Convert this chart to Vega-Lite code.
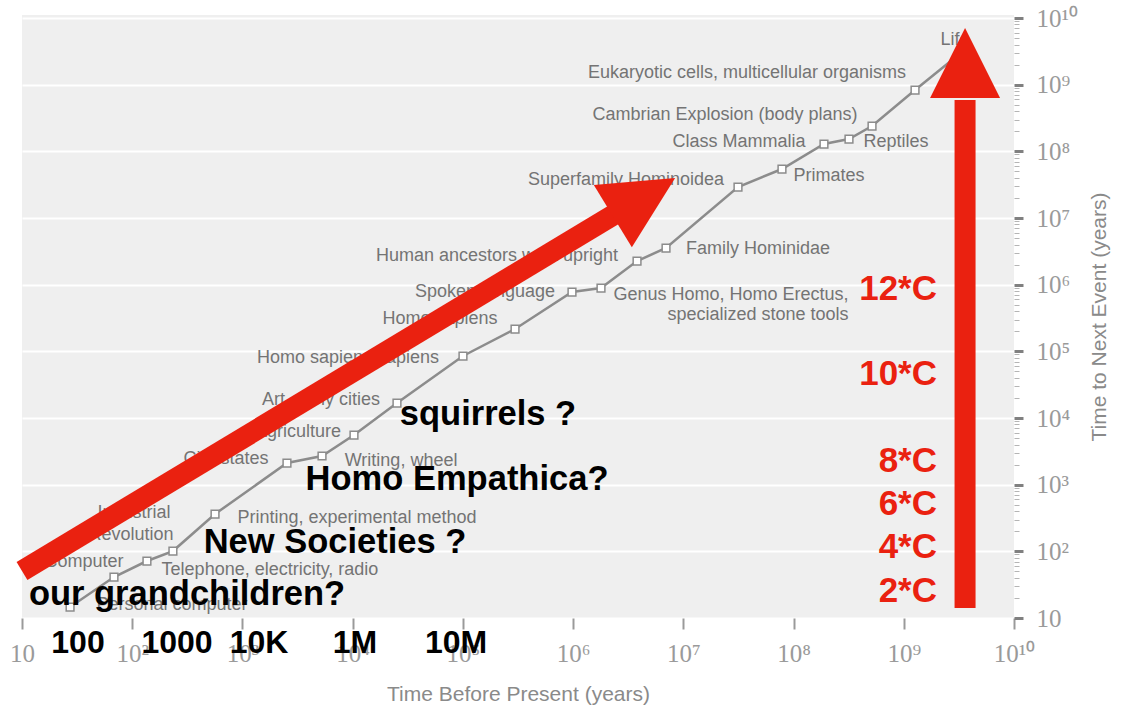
{
  "$schema": "https://vega.github.io/schema/vega-lite/v6.json",
  "width": 992,
  "height": 603,
  "autosize": {"type": "none"},
  "padding": {"left": 22, "top": 15, "right": 110, "bottom": 91},
  "background": "white",
  "config": {"view": {"fill": "#efefef", "stroke": null}, "font": "Liberation Sans"},
  "datasets": {
    "events": [
      {"event": "Personal computer", "time": 27.3, "next": 14.6},
      {"event": "Computer", "time": 68.3, "next": 41.2},
      {"event": "Telephone, electricity, radio", "time": 136, "next": 71.6},
      {"event": "Industrial Revolution", "time": 234, "next": 101},
      {"event": "Printing, experimental method", "time": 564, "next": 363},
      {"event": "City-states", "time": 2535, "next": 2113},
      {"event": "Writing, wheel", "time": 5272, "next": 2692},
      {"event": "Agriculture", "time": 10280, "next": 5559},
      {"event": "Art, early cities", "time": 25240, "next": 16790},
      {"event": "Homo sapiens sapiens", "time": 100200, "next": 85110},
      {"event": "Homo sapiens", "time": 297200, "next": 216300},
      {"event": "Spoken language", "time": 977000, "next": 776000},
      {"event": "Genus Homo, Homo Erectus, specialized stone tools", "time": 1791000, "next": 891000},
      {"event": "Human ancestors walk upright", "time": 3802000, "next": 2265000},
      {"event": "Family Hominidae", "time": 6966000, "next": 3548000},
      {"event": "Superfamily Hominoidea", "time": 31330000, "next": 29170000},
      {"event": "Primates", "time": 78520000, "next": 54330000},
      {"event": "Class Mammalia", "time": 188800000, "next": 128800000},
      {"event": "Reptiles", "time": 318400000, "next": 153100000},
      {"event": "Cambrian Explosion (body plans)", "time": 515200000, "next": 239900000},
      {"event": "Eukaryotic cells, multicellular organisms", "time": 1265000000, "next": 831800000},
      {"event": "Life", "time": 3373000000, "next": 3090000000}
    ],
    "labels": [
      {"text": "Life", "time": 2920000000, "next": 4680000000},
      {"text": "Eukaryotic cells, multicellular organisms", "time": 37850000, "next": 1496000000},
      {"text": "Cambrian Explosion (body plans)", "time": 23880000, "next": 350800000},
      {"text": "Class Mammalia", "time": 31990000, "next": 138000000},
      {"text": "Reptiles", "time": 851000000, "next": 138000000},
      {"text": "Primates", "time": 209900000, "next": 42660000},
      {"text": "Superfamily Hominoidea", "time": 3020000, "next": 37150000},
      {"text": "Family Hominidae", "time": 47640000, "next": 3428000},
      {"text": "Human ancestors walk upright", "time": 204200, "next": 2692000},
      {"text": "Genus Homo, Homo Erectus,", "time": 27100000, "next": 699800},
      {"text": "specialized stone tools", "time": 47640000, "next": 350800},
      {"text": "Spoken language", "time": 158900, "next": 776200},
      {"text": "Homo sapiens", "time": 61940, "next": 305500},
      {"text": "Homo sapiens sapiens", "time": 9078, "next": 79430},
      {"text": "Art, early cities", "time": 5164, "next": 18620},
      {"text": "Agriculture", "time": 3192, "next": 6166},
      {"text": "City-states", "time": 709.8, "next": 2427},
      {"text": "Writing, wheel", "time": 27480, "next": 2265},
      {"text": "Industrial", "time": 103.8, "next": 375.8},
      {"text": "Revolution", "time": 97.5, "next": 175.8},
      {"text": "Printing, experimental method", "time": 10940, "next": 316.2},
      {"text": "Computer", "time": 36.5, "next": 69.2},
      {"text": "Telephone, electricity, radio", "time": 1778, "next": 52.5},
      {"text": "Personal computer", "time": 229.6, "next": 15.7}
    ],
    "arrows": [
      {"arrow": "diagonal", "time": 10, "next": 50.7, "time2": 2958000, "next2": 14130000},
      {"arrow": "vertical", "time": 3597000000, "next": 14.13, "time2": 3597000000, "next2": 588500000}
    ],
    "heads": [
      {"arrow": "diagonal", "time": 4395000, "next": 20650000},
      {"arrow": "vertical", "time": 3597000000, "next": 2113000000}
    ],
    "notes": [
      {"text": "squirrels ?", "time": 169000, "next": 11090},
      {"text": "Homo Empathica?", "time": 88510, "next": 1175},
      {"text": "New Societies ?", "time": 6918, "next": 133.4},
      {"text": "our grandchildren?", "time": 314.1, "next": 22.1}
    ],
    "bottomNotes": [
      {"text": "100", "time": 32.2, "next": 4.217},
      {"text": "1000", "time": 254.7, "next": 4.217},
      {"text": "10K", "time": 1413, "next": 4.217},
      {"text": "1M", "time": 10500, "next": 4.217},
      {"text": "10M", "time": 86700, "next": 4.217}
    ],
    "warming": [
      {"text": "12*C", "time": 2002000000, "next": 861000},
      {"text": "10*C", "time": 2002000000, "next": 45710},
      {"text": "8*C", "time": 2002000000, "next": 2265},
      {"text": "6*C", "time": 2002000000, "next": 512.9},
      {"text": "4*C", "time": 2002000000, "next": 116.1},
      {"text": "2*C", "time": 2002000000, "next": 25.4}
    ]
  },
  "encoding": {
    "x": {
      "field": "time",
      "type": "quantitative",
      "scale": {"type": "log", "domain": [10, 10000000000]},
      "axis": {
        "orient": "bottom",
        "values": [10, 100, 1000, 10000, 100000, 1000000, 10000000, 100000000, 1000000000, 10000000000],
        "labelExpr": "'10' + ['', '', '²', '³', '⁴', '⁵', '⁶', '⁷', '⁸', '⁹', '¹⁰'][round(log(datum.value)/LN10)]",
        "labelFont": "Liberation Serif",
        "labelFontSize": 25,
        "labelColor": "#9a9a9a",
        "labelFlush": false,
        "labelOverlap": false,
        "labelPadding": 12,
        "tickColor": "#9a9a9a",
        "tickSize": 11,
        "tickWidth": 2,
        "domain": false,
        "grid": false,
        "title": "Time Before Present (years)",
        "titleFont": "Liberation Sans",
        "titleFontSize": 21,
        "titleFontWeight": "normal",
        "titleColor": "#8a8a8a",
        "titlePadding": 17
      }
    },
    "y": {
      "field": "next",
      "type": "quantitative",
      "scale": {"type": "log", "domain": [10, 11100000000]},
      "axis": {
        "orient": "right",
        "values": [10, 20, 30, 40, 50, 60, 70, 80, 90,
          100, 200, 300, 400, 500, 600, 700, 800, 900,
          1000, 2000, 3000, 4000, 5000, 6000, 7000, 8000, 9000,
          10000, 20000, 30000, 40000, 50000, 60000, 70000, 80000, 90000,
          100000, 200000, 300000, 400000, 500000, 600000, 700000, 800000, 900000,
          1000000, 2000000, 3000000, 4000000, 5000000, 6000000, 7000000, 8000000, 9000000,
          10000000, 20000000, 30000000, 40000000, 50000000, 60000000, 70000000, 80000000, 90000000,
          100000000, 200000000, 300000000, 400000000, 500000000, 600000000, 700000000, 800000000, 900000000,
          1000000000, 2000000000, 3000000000, 4000000000, 5000000000, 6000000000, 7000000000, 8000000000, 9000000000,
          10000000000],
        "labelExpr": "abs(log(datum.value)/LN10 - round(log(datum.value)/LN10)) < 0.000001 ? '10' + ['', '', '²', '³', '⁴', '⁵', '⁶', '⁷', '⁸', '⁹', '¹⁰'][round(log(datum.value)/LN10)] : ''",
        "labelFont": "Liberation Serif",
        "labelFontSize": 25,
        "labelColor": "#9a9a9a",
        "labelFlush": false,
        "labelOverlap": false,
        "labelBound": false,
        "labelPadding": 13,
        "tickSize": {"condition": {"test": "abs(log(datum.value)/LN10 - round(log(datum.value)/LN10)) < 0.000001", "value": 9}, "value": 5},
        "tickWidth": {"condition": {"test": "abs(log(datum.value)/LN10 - round(log(datum.value)/LN10)) < 0.000001", "value": 3}, "value": 1},
        "tickColor": {"condition": {"test": "abs(log(datum.value)/LN10 - round(log(datum.value)/LN10)) < 0.000001", "value": "#808080"}, "value": "#b5b5b5"},
        "grid": true,
        "gridColor": "white",
        "gridWidth": 2,
        "gridOpacity": {"condition": {"test": "abs(log(datum.value)/LN10 - round(log(datum.value)/LN10)) < 0.000001", "value": 1}, "value": 0},
        "domain": false,
        "title": "Time to Next Event (years)",
        "titleAngle": 270,
        "titleFont": "Liberation Sans",
        "titleFontSize": 21,
        "titleFontWeight": "normal",
        "titleColor": "#8a8a8a",
        "titlePadding": 32
      }
    }
  },
  "layer": [
    {
      "data": {"name": "events"},
      "mark": {"type": "line", "color": "#8c8c8c", "strokeWidth": 2.5}
    },
    {
      "data": {"name": "events"},
      "mark": {"type": "point", "shape": "square", "filled": true, "fill": "white", "stroke": "#8c8c8c", "strokeWidth": 1.5, "size": 60, "opacity": 1}
    },
    {
      "data": {"name": "labels"},
      "mark": {"type": "text", "font": "Liberation Sans", "fontSize": 18, "color": "#747474", "align": "center", "baseline": "middle"},
      "encoding": {"text": {"field": "text"}}
    },
    {
      "data": {"name": "arrows"},
      "mark": {"type": "rule", "color": "#ea2110", "strokeWidth": 21, "strokeCap": "butt"},
      "encoding": {"x2": {"field": "time2"}, "y2": {"field": "next2"}}
    },
    {
      "data": {"name": "heads"},
      "transform": [{"filter": "datum.arrow == 'diagonal'"}],
      "mark": {"type": "point", "shape": "M0,-1L1,1L-1,1Z", "filled": true, "color": "#ea2110", "opacity": 1, "size": 5329, "angle": 58.6, "strokeWidth": 0}
    },
    {
      "data": {"name": "heads"},
      "transform": [{"filter": "datum.arrow == 'vertical'"}],
      "mark": {"type": "point", "shape": "M0,-1L1,1L-1,1Z", "filled": true, "color": "#ea2110", "opacity": 1, "size": 4900, "angle": 0, "strokeWidth": 0}
    },
    {
      "data": {"name": "notes"},
      "mark": {"type": "text", "font": "Liberation Sans", "fontSize": 34.5, "fontWeight": "bold", "color": "black", "align": "center", "baseline": "middle"},
      "encoding": {"text": {"field": "text"}}
    },
    {
      "data": {"name": "bottomNotes"},
      "mark": {"type": "text", "font": "Liberation Sans", "fontSize": 32, "fontWeight": "bold", "color": "black", "align": "center", "baseline": "middle"},
      "encoding": {"text": {"field": "text"}}
    },
    {
      "data": {"name": "warming"},
      "mark": {"type": "text", "font": "Liberation Sans", "fontSize": 35, "fontWeight": "bold", "color": "#ea2110", "align": "right", "baseline": "middle"},
      "encoding": {"text": {"field": "text"}}
    }
  ]
}
